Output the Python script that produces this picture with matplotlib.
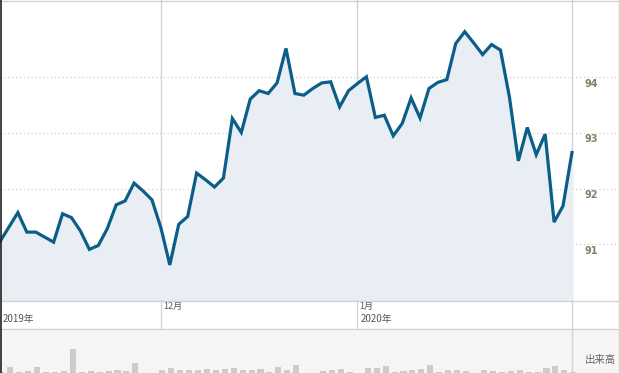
import matplotlib
matplotlib.use('Agg')
import matplotlib.pyplot as plt
from matplotlib.lines import Line2D

# daily closing prices
prices = [91.05, 91.31, 91.57, 91.22, 91.22, 91.13, 91.04, 91.55, 91.48, 91.24,
          90.91, 90.98, 91.28, 91.71, 91.78, 92.10, 91.96, 91.80, 91.30, 90.63,
          91.36, 91.50, 92.28, 92.16, 92.03, 92.19, 93.26, 93.01, 93.61, 93.76,
          93.71, 93.90, 94.52, 93.71, 93.68, 93.80, 93.90, 93.92, 93.47, 93.76,
          93.89, 94.01, 93.28, 93.32, 92.95, 93.17, 93.63, 93.27, 93.80, 93.91,
          93.96, 94.61, 94.82, 94.62, 94.41, 94.59, 94.49, 93.65, 92.50, 93.10,
          92.61, 92.98, 91.40, 91.69, 92.65]
# relative volume (bar height in px)
volume = [1, 6, 1, 2, 6, 1, 1, 2, 24, 1, 2, 1, 2, 3, 2, 10, 0, 0, 3, 5,
          3, 3, 3, 4, 3, 4, 5, 3, 3, 4, 1, 6, 3, 8, 0, 0, 2, 3, 4, 1,
          0, 5, 5, 7, 1, 2, 3, 4, 8, 1, 3, 3, 2, 0, 3, 2, 1, 2, 3, 1,
          1, 5, 7, 3, 1]
yticks = [91, 92, 93, 94]
month_pos = [18, 40]
month_labels = ['12月', '1月']
year_pos = [0, 40]
year_labels = ['2019年', '2020年']

W, H = 620, 373
step = 8.937
xmax = W / step
xs = list(range(len(prices)))
jp = ['Noto Sans CJK JP', 'DejaVu Sans']
line_c = '#0b5e88'
border = '#d3d3d3'

fig = plt.figure(figsize=(6.2, 3.73), dpi=100)

def box(top, bottom):
    return [0, 1 - bottom / H, 1, (bottom - top) / H]

# price panel
ax = fig.add_axes(box(0, 300))
ax.set_xlim(0, xmax)
ax.set_ylim(90.0, 95.39)
ax.axis('off')
for v in yticks:
    ax.axhline(v, color='#c8c8c8', lw=0.8, ls=(0, (1, 2.5)), zorder=1)
    ax.text(591 / step, v - 0.115, str(v), ha='center', va='center',
            fontsize=7, fontweight='bold', color='#85806a')
for p in month_pos:
    ax.axvline(p, color=border, lw=1, zorder=1)
ax.axvline(64, color=border, lw=1, zorder=1)
ax.fill_between(xs, prices, 90.0, color='#e9eef5', zorder=2)
ax.plot(xs, prices, color=line_c, lw=2.3, solid_joinstyle='miter', zorder=3)

# date band
ax2 = fig.add_axes(box(300, 329))
ax2.set_xlim(0, xmax)
ax2.set_ylim(0, 1)
ax2.axis('off')
for p in month_pos:
    ax2.axvline(p, color=border, lw=1)
ax2.axvline(64, color=border, lw=1)
for p, t in zip(month_pos, month_labels):
    ax2.text(p + 0.25, 0.77, t, ha='left', va='center', fontsize=6.5,
             color='#555555', family=jp)
for p, t in zip(year_pos, year_labels):
    ax2.text(p + 0.3, 0.36, t, ha='left', va='center', fontsize=7,
             color='#555555', family=jp)

# volume panel
ax3 = fig.add_axes(box(329, 373))
ax3.set_xlim(0, xmax)
ax3.set_ylim(0, 44)
ax3.set_facecolor('#f5f5f5')
for s in ax3.spines.values():
    s.set_visible(False)
ax3.set_xticks([])
ax3.set_yticks([])
ax3.bar([x + 0.15 for x in xs], volume, width=0.68, color='#cccccc')
ax3.axvline(64, color=border, lw=1)
ax3.text(600 / step, 13, '出来高', ha='center', va='center', fontsize=7.5,
         color='#666666', family=jp)

# outer frame lines
fig.add_artist(Line2D([0, 1], [1 - 0.5 / H] * 2, color=border, lw=1))
fig.add_artist(Line2D([0, 1], [1 - 300.5 / H] * 2, color=border, lw=1))
fig.add_artist(Line2D([0, 1], [1 - 328.5 / H] * 2, color=border, lw=1))
fig.add_artist(Line2D([1 - 1.5 / W] * 2, [0, 1], color=border, lw=1))
fig.add_artist(Line2D([0.5 / W] * 2, [0, 1], color='#222222', lw=1.2))

fig.savefig('out.png', dpi=100)
